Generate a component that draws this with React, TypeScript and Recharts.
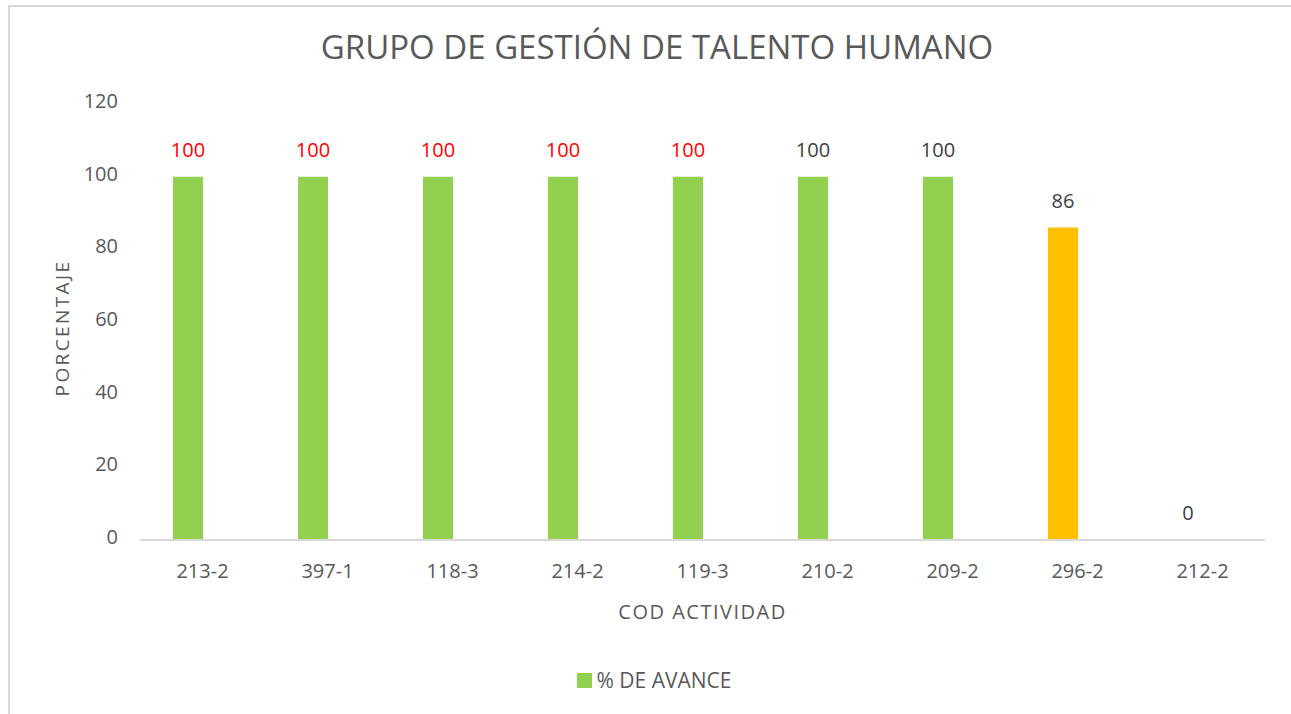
import { BarChart, Bar, XAxis, YAxis, Cell, LabelList, Label } from "recharts";

const categories = ["213-2", "397-1", "118-3", "214-2", "119-3", "210-2", "209-2", "296-2", "212-2"];
const avance = [100, 100, 100, 100, 100, 100, 100, 86, 0];
const yTicks = [0, 20, 40, 60, 80, 100, 120];

const barColors = ["#92D050", "#92D050", "#92D050", "#92D050", "#92D050", "#92D050", "#92D050", "#FFC000", "#92D050"];
const labelColors = ["#FF0000", "#FF0000", "#FF0000", "#FF0000", "#FF0000", "#404040", "#404040", "#404040", "#404040"];

const data = categories.map((cod, i) => ({ cod, avance: avance[i] }));

const FONT = "'Open Sans', sans-serif";
const GRAY = "#595959";

const BarLabel = (props: any) => {
  const { x, y, width, index, value } = props;
  return (
    <text
      x={x + width / 2}
      y={y - 20}
      textAnchor="middle"
      fill={labelColors[index]}
      fontSize={20}
      fontFamily={FONT}
    >
      {value}
    </text>
  );
};

const YTitle = (props: any) => {
  const { viewBox } = props;
  const cx = 62;
  const cy = viewBox.y + viewBox.height / 2 + 6;
  return (
    <text
      x={cx}
      y={cy}
      transform={`rotate(-90, ${cx}, ${cy})`}
      textAnchor="middle"
      dominantBaseline="central"
      fill={GRAY}
      fontSize={19}
      fontFamily={FONT}
      letterSpacing={2.4}
    >
      PORCENTAJE
    </text>
  );
};

export default function App() {
  return (
    <div style={{ position: "absolute", left: 0, top: 0, width: 1291, height: 714, background: "#fff", overflow: "hidden" }}>
      <div
        style={{
          position: "absolute",
          left: 8,
          top: 5,
          width: 1300,
          height: 720,
          border: "2px solid #D9D9D9",
          boxSizing: "border-box",
        }}
      />
      <div
        style={{
          position: "absolute",
          left: 0,
          width: 1314,
          top: 24,
          textAlign: "center",
          fontFamily: FONT,
          fontSize: 33,
          color: GRAY,
        }}
      >
        GRUPO DE GESTIÓN DE TALENTO HUMANO
      </div>
      <div style={{ position: "absolute", left: 0, top: 0 }}>
        <BarChart
          width={1291}
          height={714}
          data={data}
          margin={{ top: 104, right: 26, left: 0, bottom: 94 }}
          barGap={0}
          barSize={30}
        >
          <XAxis
            dataKey="cod"
            height={80}
            axisLine={{ stroke: "#D9D9D9", strokeWidth: 2 }}
            tickLine={false}
            tickMargin={18}
            tick={{ fill: GRAY, fontSize: 20, fontFamily: FONT }}
          >
            <Label
              value="COD ACTIVIDAD"
              position="insideBottom"
              offset={1}
              fill={GRAY}
              fontSize={20}
              fontFamily={FONT}
              letterSpacing={1.5}
            />
          </XAxis>
          <YAxis
            width={140}
            domain={[0, 120]}
            ticks={yTicks}
            axisLine={false}
            tickLine={false}
            tickMargin={16}
            tick={{ fill: GRAY, fontSize: 20, fontFamily: FONT, dy: -3 }}
          >
            <Label content={<YTitle />} />
          </YAxis>
          <Bar
            dataKey="avance"
            isAnimationActive={false}
            minPointSize={(value: number) => (value === 0 ? 0.01 : 0)}
          >
            {data.map((d, i) => (
              <Cell key={d.cod} fill={barColors[i]} />
            ))}
            <LabelList dataKey="avance" content={<BarLabel />} />
          </Bar>
          <Bar dataKey="sinDatos" fill="#A5A5A5" isAnimationActive={false} />
        </BarChart>
      </div>
      <div
        style={{
          position: "absolute",
          left: 0,
          width: 1308,
          top: 666,
          display: "flex",
          justifyContent: "center",
          alignItems: "center",
          fontFamily: FONT,
          fontSize: 21,
          color: GRAY,
        }}
      >
        <span style={{ width: 15, height: 15, background: "#92D050", marginRight: 5, display: "inline-block" }} />
        <span>% DE AVANCE</span>
      </div>
    </div>
  );
}
